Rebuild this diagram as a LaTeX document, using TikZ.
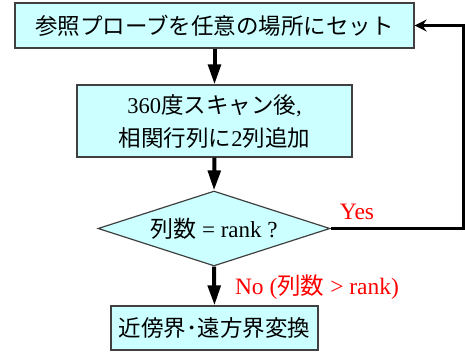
\documentclass[tikz,border=0pt]{standalone}
\usepackage{fontspec}
\setmainfont{Liberation Serif}
\newfontfamily\jp{Noto Sans CJK JP}
\usetikzlibrary{arrows.meta,shapes.geometric}
\definecolor{boxfill}{HTML}{CCFFFF}
\definecolor{boxline}{HTML}{404040}
\begin{document}
\begin{tikzpicture}[x=1pt,y=-1pt,
  box/.style={draw=boxline,line width=1.2pt,fill=boxfill,inner sep=0pt,font=\fontsize{22.5}{33}\selectfont,align=center},
  dia/.style={diamond,draw=boxline,line width=1.2pt,fill=boxfill,inner sep=0pt,aspect=3.1,font=\fontsize{23}{26}\selectfont},
  flow/.style={line width=4pt,-{Triangle[length=20pt,width=12.5pt]}},
  back/.style={line width=3pt,-{Stealth[length=12pt,width=12pt,inset=4pt]}},
  lbl/.style={text=red,font=\fontsize{23.5}{26}\selectfont,inner sep=0pt}]
\useasboundingbox (0,0) rectangle (465,351);
\node[box,minimum width=399pt,minimum height=45pt] (b1) at (214.5,25.5) {{\jp 参照プローブを任意の場所にセット}};
\node[box,minimum width=275pt,minimum height=72pt] (b2) at (214.5,121) {360{\jp 度スキャン後}, \\{\jp 相関行列に}2{\jp 列追加}};
\node[dia,minimum width=232pt,minimum height=75pt] (d) at (214,228.5) {{\jp 列数} = rank ?};
\node[box,minimum width=207pt,minimum height=44pt] (b3) at (214.5,328) {{\jp 近傍界･遠方界変換}};
\coordinate (fb) at (463,228.5);
\draw[flow] (b1.south) -- (b2.north);
\draw[flow] (b2.south) -- (d.north);
\draw[flow] (d.south) -- (b3.north);
\draw[back] (d.east) -- (fb) |- (b1.east);
\node[lbl] (yes) at (357,212) {Yes};
\node[lbl] (no) at (317,287) {No ({\jp 列数} > rank)};
\end{tikzpicture}
\end{document}
